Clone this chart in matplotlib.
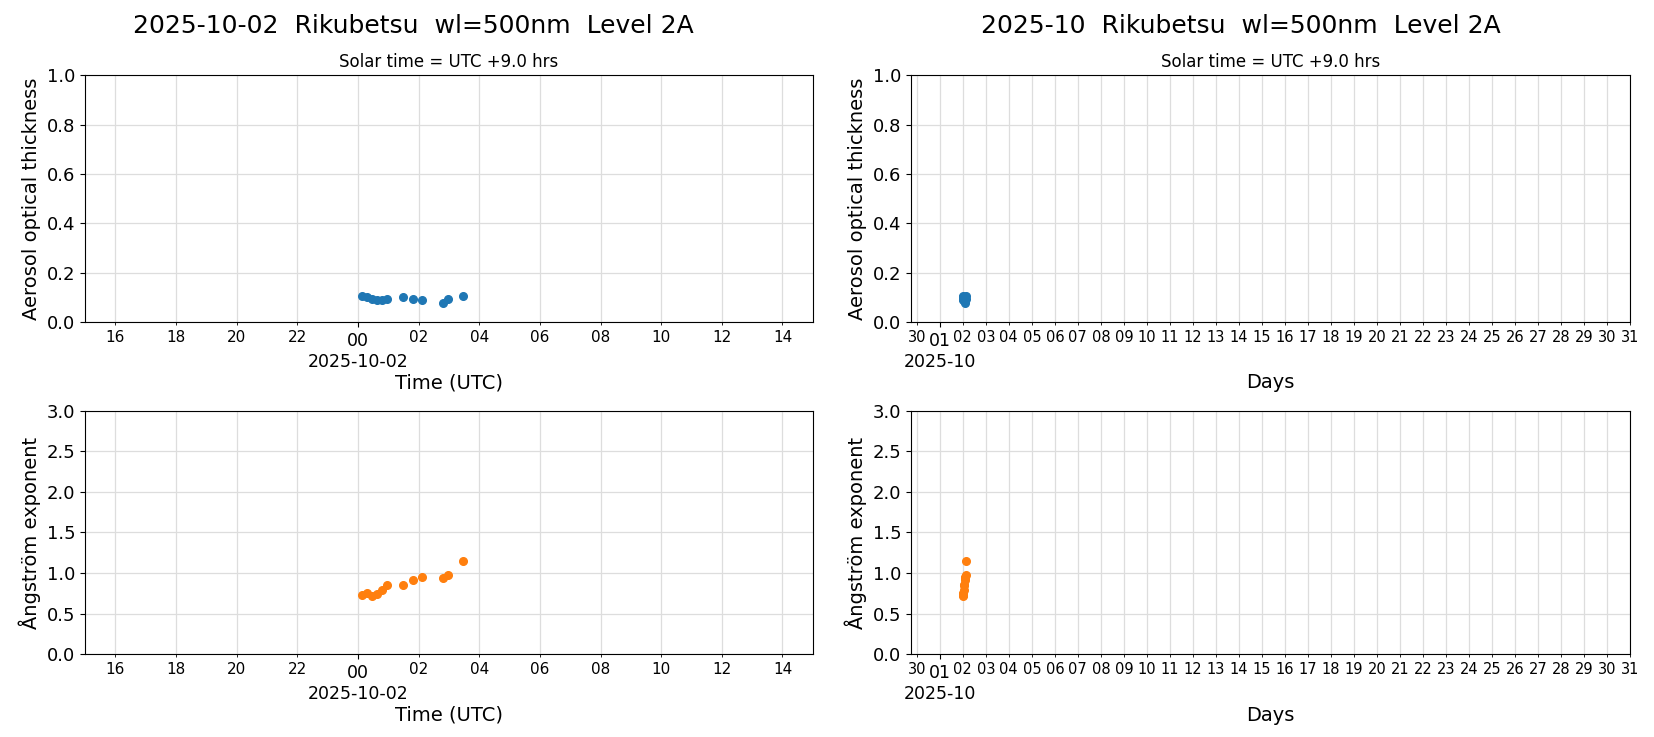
import numpy as np
import matplotlib
matplotlib.use("Agg")
import matplotlib.pyplot as plt
import matplotlib.dates as mdates
from datetime import datetime, timedelta

site = "Rikubetsu"
day = datetime(2025, 10, 2)

# hours after 00 UTC on 2025-10-02
hours = [0.13, 0.30, 0.46, 0.63, 0.79, 0.96, 1.48, 1.81, 2.11, 2.80, 2.96, 3.46]
aot = [0.105, 0.103, 0.094, 0.090, 0.090, 0.094, 0.101, 0.094, 0.090, 0.078, 0.094, 0.106]
alpha = [0.73, 0.75, 0.72, 0.74, 0.79, 0.85, 0.85, 0.915, 0.95, 0.94, 0.98, 1.15]

times = [day + timedelta(hours=h) for h in hours]

fig = plt.figure(figsize=(16.54, 7.37), dpi=100)
ax1 = fig.add_axes([0.0514, 0.563, 0.440, 0.335])
ax2 = fig.add_axes([0.0514, 0.112, 0.440, 0.331])
ax3 = fig.add_axes([0.5508, 0.563, 0.4347, 0.335])
ax4 = fig.add_axes([0.5508, 0.112, 0.4347, 0.331])

fig.text(0.25, 0.965, "2025-10-02  {}  wl=500nm  Level 2A".format(site),
         ha="center", va="center", fontsize=18)
fig.text(0.75, 0.965, "2025-10  {}  wl=500nm  Level 2A".format(site),
         ha="center", va="center", fontsize=18)

for ax, vals, col, ylim, yt, ylab in [
        (ax1, aot, "tab:blue", (0, 1), np.arange(0, 1.01, 0.2), "Aerosol optical thickness"),
        (ax2, alpha, "tab:orange", (0, 3), np.arange(0, 3.01, 0.5), "Ångström exponent"),
        (ax3, aot, "tab:blue", (0, 1), np.arange(0, 1.01, 0.2), "Aerosol optical thickness"),
        (ax4, alpha, "tab:orange", (0, 3), np.arange(0, 3.01, 0.5), "Ångström exponent")]:
    ax.plot(times, vals, "o", color=col, ms=5.5, zorder=3)
    ax.set_ylim(*ylim)
    ax.set_yticks(yt)
    ax.tick_params(axis="y", labelsize=13)
    ax.set_ylabel(ylab, fontsize=14)
    ax.grid(True, which="both", color="#dddddd", lw=0.9)
    ax.set_axisbelow(True)

# daily panels
for ax in (ax1, ax2):
    ax.set_xlim(datetime(2025, 10, 1, 15), datetime(2025, 10, 2, 15))
    ax.xaxis.set_major_locator(mdates.DayLocator())
    ax.xaxis.set_major_formatter(mdates.DateFormatter("%H\n%Y-%m-%d"))
    ax.xaxis.set_minor_locator(mdates.HourLocator(byhour=range(0, 24, 2)))
    ax.xaxis.set_minor_formatter(mdates.DateFormatter("%H"))
    ax.tick_params(axis="x", which="major", labelsize=12.5)
    ax.tick_params(axis="x", which="minor", labelsize=11)
    ax.set_xlabel("Time (UTC)", fontsize=14, labelpad=2)
ax1.set_title("Solar time = UTC +9.0 hrs", fontsize=12)

# monthly panels
for ax in (ax3, ax4):
    ax.set_xlim(datetime(2025, 9, 29, 18), datetime(2025, 10, 31))
    ax.xaxis.set_major_locator(mdates.MonthLocator())
    ax.xaxis.set_major_formatter(mdates.DateFormatter("%d\n%Y-%m"))
    ax.xaxis.set_minor_locator(mdates.DayLocator())
    ax.xaxis.set_minor_formatter(mdates.DateFormatter("%d"))
    ax.tick_params(axis="x", which="major", labelsize=12.5)
    ax.tick_params(axis="x", which="minor", labelsize=10.5)
    ax.set_xlabel("Days", fontsize=14, labelpad=2)
ax3.set_title("Solar time = UTC +9.0 hrs", fontsize=12)

fig.savefig("out.png", dpi=100)
